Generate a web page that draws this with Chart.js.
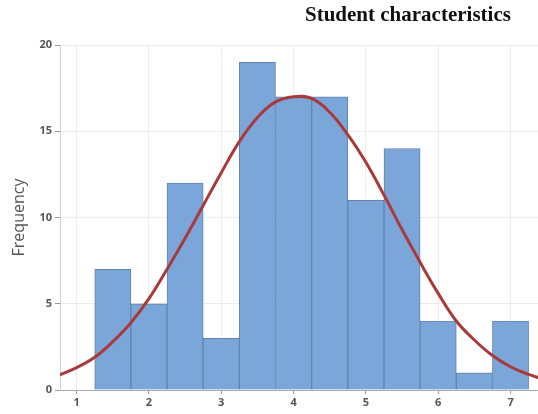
<!DOCTYPE html>
<html>
<head>
<meta charset="utf-8">
<script src="https://cdn.jsdelivr.net/npm/chart.js@4.4.1/dist/chart.umd.min.js"></script>
<style>
  body { margin: 0; background: #fff; }
  #wrap { position: relative; width: 538px; height: 414px; }
  #title {
    position: absolute; left: 305px; top: 2px;
    font: bold 21px "Liberation Serif", "DejaVu Serif", serif; color: #111;
    white-space: nowrap;
  }
</style>
</head>
<body>
<div id="wrap">
  <canvas id="chart" width="538" height="414"></canvas>
  <div id="title">Student characteristics</div>
</div>
<script>
// histogram bins (centres) and counts
const binCenters = [1.5, 2, 2.5, 3, 3.5, 4, 4.5, 5, 5.5, 6, 6.5, 7];
const binCounts = [7, 5, 12, 3, 19, 17, 17, 11, 14, 4, 1, 4];

// normal curve
const curveX = [0.75, 1, 1.25, 1.5, 1.75, 2, 2.25, 2.5, 2.75, 3, 3.25, 3.5, 3.75, 4,
  4.25, 4.5, 4.75, 5, 5.25, 5.5, 5.75, 6, 6.25, 6.5, 6.75, 7, 7.25, 7.4];
const curveY = [0.85, 1.3, 1.9, 2.8, 3.9, 5.3, 7.0, 8.8, 10.7, 12.6, 14.4, 15.8, 16.7, 17.0,
  16.9, 16.1, 14.8, 13.2, 11.3, 9.3, 7.4, 5.6, 4.0, 2.9, 2.0, 1.35, 0.9, 0.7];

// tick labels
const xTicks = [1, 2, 3, 4, 5, 6, 7];
const yTicks = [0, 5, 10, 15, 20];

const ctx = document.getElementById('chart').getContext('2d');
new Chart(ctx, {
  data: {
    datasets: [
      {
        type: 'line',
        data: curveX.map((x, i) => ({ x: x, y: curveY[i] })),
        borderColor: '#a83a3c',
        borderWidth: 3,
        pointRadius: 0,
        tension: 0.4,
        fill: false,
        order: 0
      },
      {
        type: 'bar',
        data: binCenters.map((x, i) => ({ x: x, y: binCounts[i] })),
        backgroundColor: '#7ba6d9',
        borderColor: '#6583ab',
        borderWidth: 1,
        barPercentage: 1,
        categoryPercentage: 1,
        order: 1
      }
    ]
  },
  options: {
    responsive: false,
    animation: false,
    layout: { padding: { top: 45, right: 0, left: 0, bottom: 0 } },
    plugins: { legend: { display: false }, tooltip: { enabled: false } },
    scales: {
      x: {
        type: 'linear',
        offset: false,
        min: 0.77,
        max: 7.38,
        afterBuildTicks: s => { s.ticks = xTicks.map(v => ({ value: v })); },
        afterFit: s => { s.height = 24; },
        grid: { offset: false, color: '#ececec', tickColor: '#999', tickLength: 4 },
        border: { color: '#aaa' },
        ticks: { color: '#555', padding: 2, font: { family: 'Open Sans', size: 11, weight: 'bold' } }
      },
      y: {
        min: 0,
        max: 20,
        afterBuildTicks: s => { s.ticks = yTicks.map(v => ({ value: v })); },
        afterFit: s => { s.width = 60; },
        grid: { color: '#ececec', tickColor: '#999', tickLength: 5 },
        border: { color: '#d0d0d0' },
        ticks: { color: '#555', padding: 3, font: { family: 'Open Sans', size: 11, weight: 'bold' } },
        title: {
          display: true,
          text: 'Frequency',
          color: '#555',
          padding: { top: 10, bottom: 0 },
          font: { family: 'Open Sans', size: 16 }
        }
      }
    }
  }
});
</script>
</body>
</html>
